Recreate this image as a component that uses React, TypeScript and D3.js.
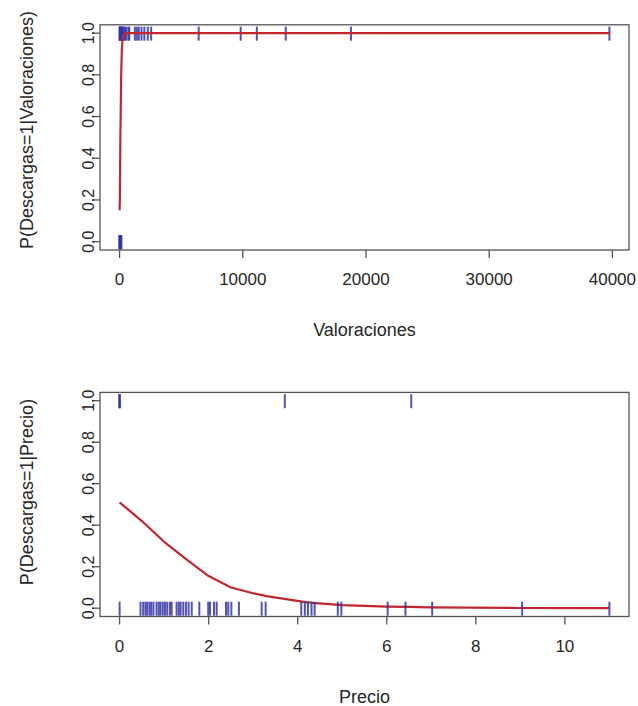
import React from "react";
import * as d3 from "d3";

// ---- Data ----
// Panel 1: Valoraciones
const valoracionesDesc1 = [0, 15, 30, 50, 80, 110, 150, 200, 260, 330, 420, 520, 700, 790, 1240, 1400, 1560, 1780, 2010, 2290, 2560, 6420, 9830, 11140, 13490, 18780, 39760];
const valoracionesDesc0 = [0, 5, 10, 20, 40, 60, 100, 150];
const valCurveX = [0, 20, 40, 60, 90, 130, 180, 250, 350, 600, 1200, 39760];
const valCurveP = [0.15, 0.21, 0.33, 0.49, 0.62, 0.8, 0.92, 0.98, 0.995, 1, 1, 1];
const valXTicks = [0, 10000, 20000, 30000, 40000];

// Panel 2: Precio
const precioDesc1 = [0, 0, 0, 3.71, 6.55];
const precioDesc0 = [0, 0.47, 0.53, 0.58, 0.62, 0.67, 0.71, 0.76, 0.83, 0.88, 0.92, 0.97, 1.02, 1.07, 1.13, 1.17, 1.28, 1.33, 1.37, 1.43, 1.49, 1.55, 1.62, 1.79, 1.99, 2.03, 2.12, 2.18, 2.39, 2.44, 2.51, 2.68, 3.19, 3.28, 4.08, 4.16, 4.23, 4.31, 4.38, 4.9, 4.98, 6.02, 6.42, 7.02, 9.04, 11.0];
const precioCurveX = [0, 0.5, 1.0, 1.5, 2.0, 2.5, 3.0, 3.3, 4.1, 4.4, 5.0, 6.0, 6.5, 7.0, 9.0, 11.0];
const precioCurveP = [0.51, 0.42, 0.32, 0.235, 0.155, 0.1, 0.072, 0.058, 0.032, 0.024, 0.015, 0.008, 0.006, 0.004, 0.001, 0.0001];
const precioXTicks = [0, 2, 4, 6, 8, 10];

const yTicks = [0, 0.2, 0.4, 0.6, 0.8, 1.0];

const FONT = "'Liberation Sans', Arial, sans-serif";
const TEXT = "#262626";
const AXIS = "#555";
const RUG = "#3535a8";
const LINE = "#c3262c";

type PanelProps = {
  top: number;
  bottom: number;
  xMax: number;
  xTicks: number[];
  desc1: number[];
  desc0: number[];
  curveX: number[];
  curveP: number[];
  xLabel: string;
  yLabel: string;
  lineOnTop: boolean;
  titleCenter: number;
};

function Panel(p: PanelProps) {
  const left = 100;
  const right = 629;
  const padX = (right - left) * 0.04 / 1.08;
  const padY = (p.bottom - p.top) * 0.04 / 1.08;
  const x = d3.scaleLinear().domain([0, p.xMax]).range([left + padX, right - padX]);
  const y = d3.scaleLinear().domain([0, 1]).range([p.bottom - padY, p.top + padY]);
  const pts: [number, number][] = p.curveX.map((v, i) => [v, p.curveP[i]]);
  const line = d3.line<[number, number]>().x((d) => x(d[0])).y((d) => y(d[1]));
  const fmtY = (v: number) => v.toFixed(1);

  const rug = (vals: number[], level: number, key: string) =>
    vals.map((v, i) => (
      <line key={key + i} x1={x(v)} x2={x(v)} y1={y(level) - 6.5} y2={y(level) + 7.5}
        stroke={RUG} strokeWidth={2} strokeOpacity={0.85} />
    ));

  const curve = <path d={line(pts) || ""} fill="none" stroke={LINE} strokeWidth={2.2} strokeLinejoin="round" />;

  return (
    <g>
      {!p.lineOnTop && curve}
      {rug(p.desc1, 1, "a")}
      {rug(p.desc0, 0, "b")}
      {p.lineOnTop && curve}
      <rect x={left} y={p.top} width={right - left} height={p.bottom - p.top} fill="none" stroke={AXIS} strokeWidth={1.3} />
      {p.xTicks.map((t) => (
        <g key={"xt" + t}>
          <line x1={x(t)} x2={x(t)} y1={p.bottom} y2={p.bottom + 8} stroke={AXIS} strokeWidth={1.3} />
          <text x={x(t)} y={p.bottom + 35} textAnchor="middle" fontFamily={FONT} fontSize={17} fill={TEXT}>{t}</text>
        </g>
      ))}
      <text x={(left + right) / 2} y={p.bottom + 86} textAnchor="middle" fontFamily={FONT} fontSize={18} fill={TEXT}>{p.xLabel}</text>
      {yTicks.map((t) => (
        <g key={"yt" + t}>
          <line x1={left} x2={left - 8} y1={y(t)} y2={y(t)} stroke={AXIS} strokeWidth={1.3} />
          <text transform={`translate(94,${y(t)}) rotate(-90)`} textAnchor="middle" fontFamily={FONT} fontSize={16} fill={TEXT}>{fmtY(t)}</text>
        </g>
      ))}
      <text transform={`translate(33,${p.titleCenter}) rotate(-90)`} textAnchor="middle" fontFamily={FONT} fontSize={18} fill={TEXT}>{p.yLabel}</text>
    </g>
  );
}

export default function App() {
  return (
    <svg width={638} height={706} style={{ position: "absolute", left: 0, top: 0, display: "block", background: "#fff" }}>
      <Panel top={24.8} bottom={250} xMax={39760} xTicks={valXTicks}
        desc1={valoracionesDesc1} desc0={valoracionesDesc0}
        curveX={valCurveX} curveP={valCurveP}
        xLabel="Valoraciones" yLabel="P(Descargas=1|Valoraciones)" lineOnTop={true} titleCenter={130} />
      <Panel top={392.4} bottom={616.5} xMax={11} xTicks={precioXTicks}
        desc1={precioDesc1} desc0={precioDesc0}
        curveX={precioCurveX} curveP={precioCurveP}
        xLabel="Precio" yLabel="P(Descargas=1|Precio)" lineOnTop={false} titleCenter={492} />
    </svg>
  );
}
